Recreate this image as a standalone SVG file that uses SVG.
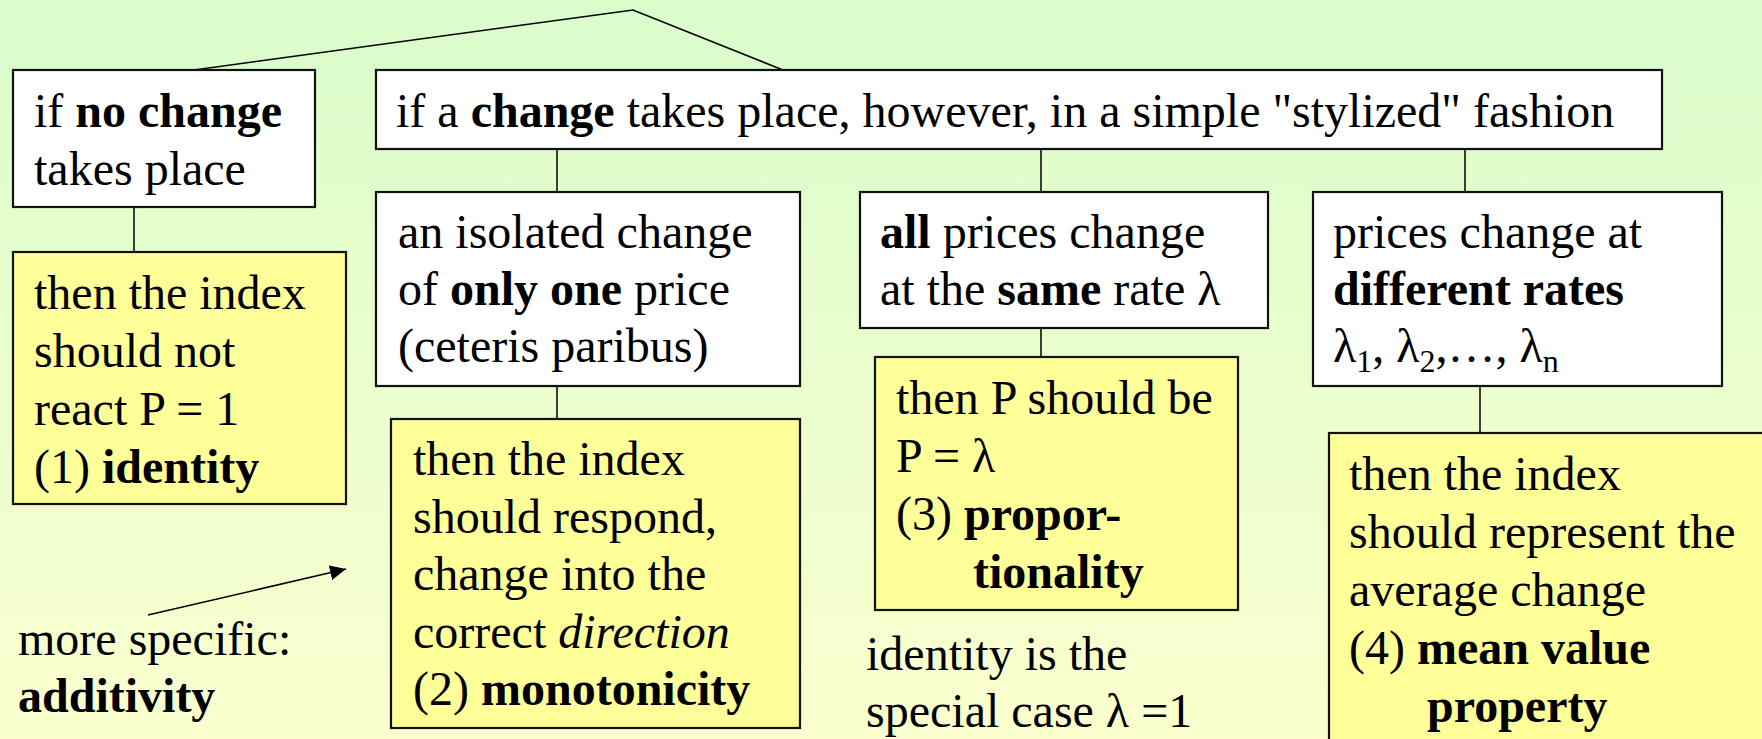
<svg xmlns="http://www.w3.org/2000/svg" width="1762" height="739" viewBox="0 0 1762 739">
<defs>
<linearGradient id="bg" x1="0" y1="0" x2="0" y2="1">
<stop offset="0" stop-color="#d9fdcb"/>
<stop offset="1" stop-color="#fbffce"/>
</linearGradient>
<marker id="ah" markerWidth="16" markerHeight="15" refX="16" refY="7.5" orient="auto" markerUnits="userSpaceOnUse" viewBox="0 0 16 15">
<path d="M0,0 L16,7.5 L0,15 z" fill="#000"/>
</marker>
<style>
.t{font-family:'Liberation Serif','Times New Roman',Tinos,serif;font-size:48px;fill:#000}
.b{font-weight:bold}
.i{font-style:italic}
.sub{font-size:32px}
.box{fill:#fff;stroke:#111;stroke-width:2.2}
.ybox{fill:#ffff99;stroke:#111;stroke-width:2.2}
.ln{stroke:#000;stroke-width:1.5;fill:none}
</style>
</defs>
<rect x="0" y="0" width="1762" height="739" fill="url(#bg)"/>

<g id="connectors">
<polyline class="ln" points="194,70 633,10 783,70" stroke-width="2.2"/>
<line class="ln" x1="134" y1="207" x2="134" y2="252"/>
<line class="ln" x1="557" y1="149" x2="557" y2="192"/>
<line class="ln" x1="1041" y1="149" x2="1041" y2="192"/>
<line class="ln" x1="1465" y1="149" x2="1465" y2="192"/>
<line class="ln" x1="557" y1="386" x2="557" y2="419"/>
<line class="ln" x1="1041" y1="328" x2="1041" y2="357"/>
<line class="ln" x1="1480" y1="386" x2="1480" y2="433"/>
<line class="ln" x1="148" y1="615" x2="346" y2="569" stroke-width="2" marker-end="url(#ah)"/>
</g>

<g font-family="Liberation Serif, serif">
<g id="node-nochange">
<rect class="box" x="13" y="70" width="302" height="137"/>
<text class="t" x="34" y="127">if <tspan class="b">no change</tspan></text>
<text class="t" x="34" y="185">takes place</text>
</g>

<g id="node-change">
<rect class="box" x="376" y="70" width="1286" height="79"/>
<text class="t" x="396" y="127">if a <tspan class="b">change</tspan> takes place, however, in a simple "stylized" fashion</text>
</g>

<g id="node-identity">
<rect class="ybox" x="13" y="252" width="333" height="252"/>
<text class="t" x="34" y="309">then the index</text>
<text class="t" x="34" y="367">should not</text>
<text class="t" x="34" y="425">react P = 1</text>
<text class="t" x="34" y="483">(1) <tspan class="b">identity</tspan></text>
</g>

<g id="node-isolated">
<rect class="box" x="376" y="192" width="424" height="194"/>
<text class="t" x="398" y="248">an isolated change</text>
<text class="t" x="398" y="305">of <tspan class="b">only one</tspan> price</text>
<text class="t" x="398" y="362">(ceteris paribus)</text>
</g>

<g id="node-monotonicity">
<rect class="ybox" x="391" y="419" width="409" height="309"/>
<text class="t" x="413" y="475">then the index</text>
<text class="t" x="413" y="533">should respond,</text>
<text class="t" x="413" y="590">change into the</text>
<text class="t" x="413" y="648">correct <tspan class="i">direction</tspan></text>
<text class="t" x="413" y="705">(2) <tspan class="b">monotonicity</tspan></text>
</g>

<g id="node-same">
<rect class="box" x="860" y="192" width="408" height="136"/>
<text class="t" x="880" y="248"><tspan class="b">all</tspan> prices change</text>
<text class="t" x="880" y="305">at the <tspan class="b">same</tspan> rate λ</text>
</g>

<g id="node-proportionality">
<rect class="ybox" x="875" y="357" width="363" height="253"/>
<text class="t" x="896" y="414">then P should be</text>
<text class="t" x="896" y="472">P = λ</text>
<text class="t" x="896" y="530">(3) <tspan class="b">propor-</tspan></text>
<text class="t b" x="973" y="588">tionality</text>
</g>

<g id="note-identity">
<text class="t" x="866" y="670">identity is the</text>
<text class="t" x="866" y="727">special case λ =1</text>
</g>

<g id="node-different">
<rect class="box" x="1313" y="192" width="409" height="194"/>
<text class="t" x="1333" y="248">prices change at</text>
<text class="t b" x="1333" y="305">different rates</text>
<text class="t" x="1333" y="362">λ<tspan class="sub" dy="10">1</tspan><tspan dy="-10">, λ</tspan><tspan class="sub" dy="10">2</tspan><tspan dy="-10">,…, λ</tspan><tspan class="sub" dy="10">n</tspan></text>
</g>

<g id="node-mean">
<rect class="ybox" x="1329" y="433" width="445" height="320"/>
<text class="t" x="1349" y="490">then the index</text>
<text class="t" x="1349" y="548">should represent the</text>
<text class="t" x="1349" y="606">average change</text>
<text class="t" x="1349" y="664">(4) <tspan class="b">mean value</tspan></text>
<text class="t b" x="1427" y="722">property</text>
</g>

<g id="note-additivity">
<text class="t" x="18" y="655">more specific:</text>
<text class="t b" x="18" y="712">additivity</text>
</g>
</g>
</svg>
